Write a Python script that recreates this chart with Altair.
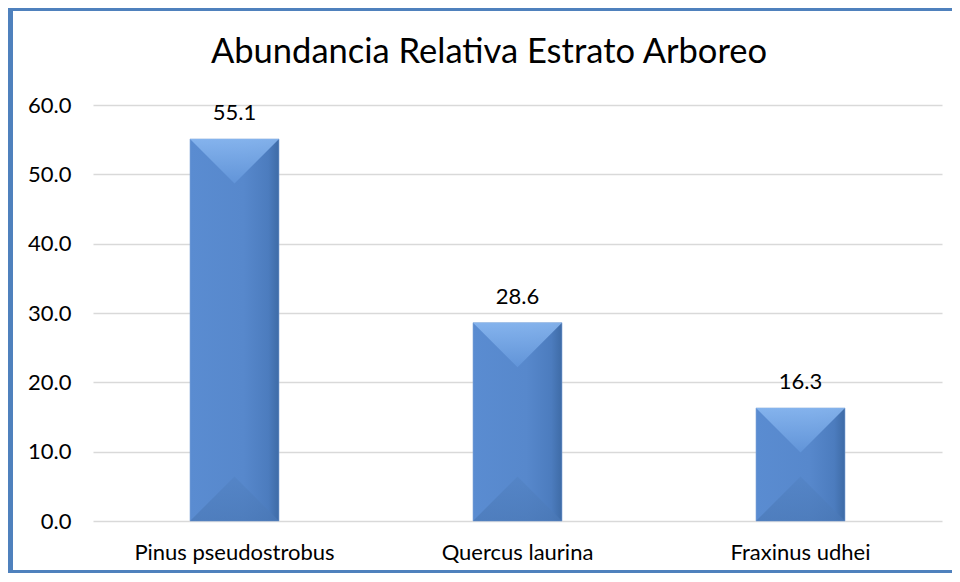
import altair as alt
import pandas as pd

species = ["Pinus pseudostrobus", "Quercus laurina", "Fraxinus udhei"]
values = [55.1, 28.6, 16.3]
y_ticks = [0, 10, 20, 30, 40, 50, 60]
title_text = "Abundancia Relativa Estrato Arboreo"

FONT = "Lato"
df = pd.DataFrame({"species": species, "value": values})

W, H = 849, 416
PL, PT, PR, PB = 85, 97, 10, 52
BAR_W = 89

x_enc = alt.X("species:N", sort=species, title=None,
              scale=alt.Scale(paddingInner=0, paddingOuter=0),
              axis=alt.Axis(labelAngle=0, labelFontSize=22, labelFont=FONT,
                            labelColor="#000000", ticks=False, domain=False,
                            labelPadding=21, grid=False, labelLimit=0))
y_enc = alt.Y("value:Q", title=None,
              scale=alt.Scale(domain=[0, 60], nice=False),
              axis=alt.Axis(values=y_ticks, format=".1f", labelFontSize=22,
                            labelFont=FONT, labelColor="#000000", ticks=False,
                            domain=False, labelPadding=22, grid=True,
                            gridColor="#D9D9D9", gridWidth=1.5))

base = alt.Chart(df)

bar_grad = alt.Gradient(
    gradient="linear", x1=0, x2=1, y1=0, y2=0,
    stops=[alt.GradientStop(color="#5A8CD1", offset=0),
           alt.GradientStop(color="#5788CC", offset=0.6),
           alt.GradientStop(color="#4C7CBE", offset=0.88),
           alt.GradientStop(color="#3E6BA6", offset=1)])

bars = base.mark_bar(size=BAR_W, color=bar_grad, stroke="#7FA6D9",
                     strokeWidth=0.6).encode(x=x_enc, y=y_enc)

top_grad = alt.Gradient(
    gradient="linear", x1=0, x2=0, y1=0, y2=1,
    stops=[alt.GradientStop(color="#8CBAF2", offset=0),
           alt.GradientStop(color="#6396DA", offset=1)])
bot_grad = alt.Gradient(
    gradient="linear", x1=0, x2=0, y1=0, y2=1,
    stops=[alt.GradientStop(color="#5383C4", offset=0),
           alt.GradientStop(color="#4A78B6", offset=1)])

top_tri = base.mark_point(shape="M -1 0 L 1 0 L 0 1 Z", size=BAR_W * BAR_W,
                          filled=True, color=top_grad, opacity=0.85,
                          strokeWidth=0).encode(
    x=alt.X("species:N", sort=species), y=alt.Y("value:Q"))
bot_tri = base.mark_point(shape="M -1 0 L 1 0 L 0 -1 Z", size=BAR_W * BAR_W,
                          filled=True, color=bot_grad, opacity=0.7,
                          strokeWidth=0).encode(
    x=alt.X("species:N", sort=species), y=alt.datum(0))

labels = base.mark_text(font=FONT, fontSize=22, color="#000000",
                        baseline="alphabetic", dy=-19).encode(
    x=alt.X("species:N", sort=species), y=alt.Y("value:Q"),
    text=alt.Text("value:Q", format=".1f"))

title = alt.Chart(pd.DataFrame({"t": [title_text]})).mark_text(
    font=FONT, fontSize=34.5, color="#000000", baseline="alphabetic",
    align="center").encode(text="t:N", x=alt.value(396), y=alt.value(-42))

one = pd.DataFrame({"k": [0]})
BC = "#4F81BD"
left_b = alt.Chart(one).mark_rect(color=BC).encode(
    x=alt.value(-PL), x2=alt.value(-PL + 5), y=alt.value(-PT), y2=alt.value(H + PB))
top_b = alt.Chart(one).mark_rect(color=BC).encode(
    x=alt.value(-PL), x2=alt.value(W + PR), y=alt.value(-PT), y2=alt.value(-PT + 3))
bot_b = alt.Chart(one).mark_rect(color=BC).encode(
    x=alt.value(-PL), x2=alt.value(W + PR), y=alt.value(H + PB - 3), y2=alt.value(H + PB))

chart = alt.layer(bars, top_tri, bot_tri, labels, title, left_b, top_b, bot_b).properties(
    width=W, height=H,
    autosize=alt.AutoSizeParams(type="none"),
    padding={"left": PL, "top": PT, "right": PR, "bottom": PB},
    background="#FFFFFF",
).configure_view(stroke=None)

chart.save("out.html", embed_options={"renderer": "svg", "actions": False})
